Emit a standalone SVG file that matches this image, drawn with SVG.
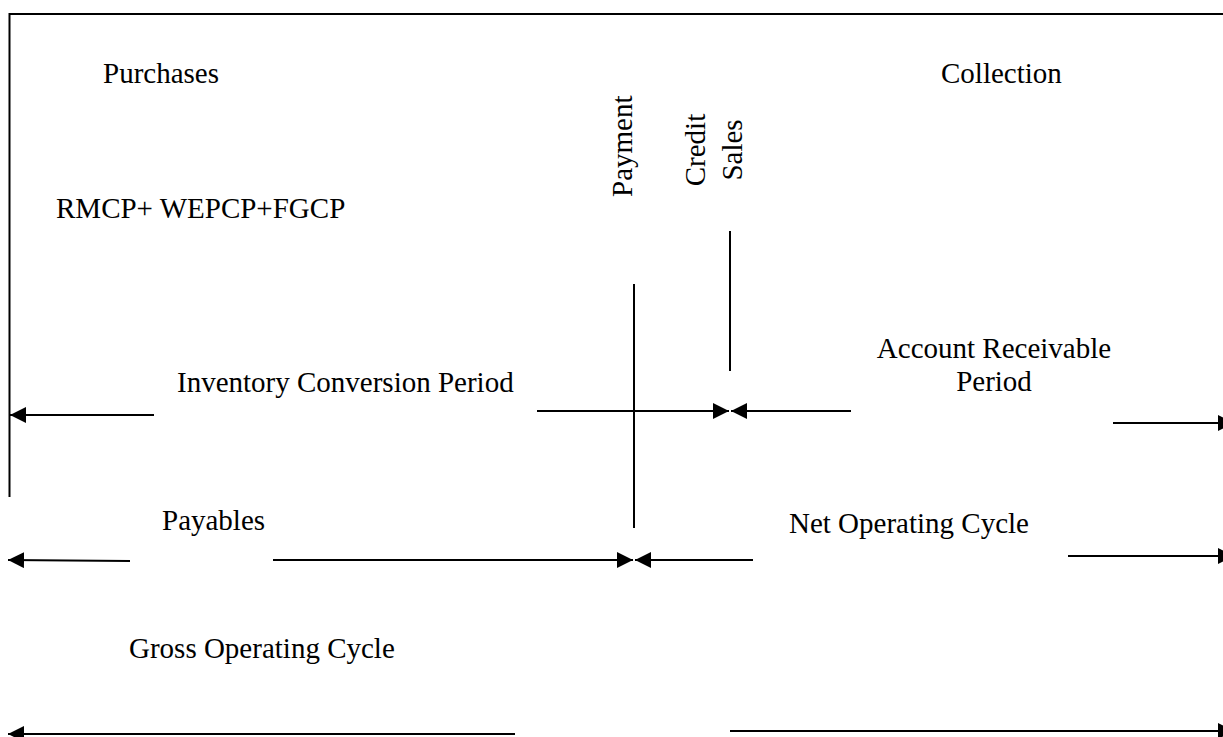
<svg xmlns="http://www.w3.org/2000/svg" width="1223" height="737" viewBox="0 0 1223 737">
<style>
text{font-family:"Liberation Serif","Times New Roman",serif;font-size:29px;fill:#000}
.ln{stroke:#000;stroke-width:2;fill:none}
.ar{stroke:#000;stroke-width:2;fill:none;marker-end:url(#ah)}
</style>
<defs>
<marker id="ah" viewBox="0 0 16 16" refX="16" refY="8" markerWidth="16" markerHeight="16" markerUnits="userSpaceOnUse" orient="auto">
<path d="M0,0 L16,8 L0,16 z" fill="#000"/>
</marker>
</defs>
<rect width="1223" height="737" fill="#fff"/>
<g id="frame">
<path class="ln" d="M9.5,497 V14 H1223"/>
</g>
<g id="labels">
<g id="purchases"><text x="103" y="83">Purchases</text></g>
<g id="collection"><text x="941" y="83">Collection</text></g>
<g id="rmcp"><text x="56" y="218">RMCP+ WEPCP+FGCP</text></g>
<g id="payment"><text transform="translate(632,197) rotate(-90)">Payment</text></g>
<g id="credit-sales"><text transform="rotate(-90)" text-anchor="middle"><tspan x="-150" y="705">Credit</tspan><tspan x="-150" y="742">Sales</tspan></text></g>
<g id="icp"><text x="177" y="392">Inventory Conversion Period</text></g>
<g id="arp"><text text-anchor="middle"><tspan x="994" y="358">Account Receivable</tspan><tspan x="994" y="391">Period</tspan></text></g>
<g id="payables"><text x="162" y="530">Payables</text></g>
<g id="noc"><text x="789" y="533">Net Operating Cycle</text></g>
<g id="goc"><text x="129" y="658">Gross Operating Cycle</text></g>
</g>
<g id="connectors">
<line class="ln" x1="634" y1="284" x2="634" y2="528"/>
<line class="ln" x1="730" y1="231" x2="730" y2="371"/>
<line class="ar" x1="154" y1="415" x2="10" y2="415"/>
<line class="ar" x1="537" y1="411" x2="729" y2="411"/>
<line class="ar" x1="851" y1="411" x2="731" y2="411"/>
<line class="ar" x1="1113" y1="423" x2="1234" y2="423"/>
<line class="ar" x1="130" y1="561" x2="8" y2="560"/>
<line class="ar" x1="273" y1="560" x2="633" y2="560"/>
<line class="ar" x1="753" y1="560" x2="635" y2="560"/>
<line class="ar" x1="1068" y1="556" x2="1234" y2="556"/>
<line class="ar" x1="515" y1="734" x2="8" y2="734"/>
<line class="ar" x1="730" y1="731" x2="1234" y2="731"/>
</g>
</svg>
